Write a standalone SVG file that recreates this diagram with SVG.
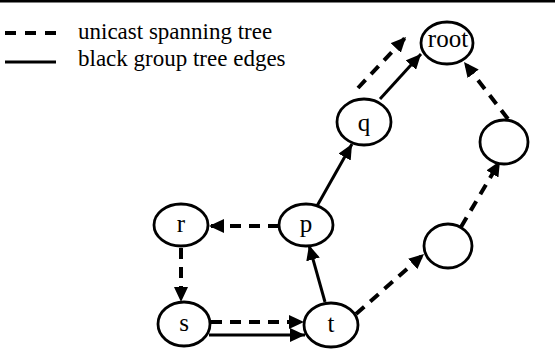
<svg xmlns="http://www.w3.org/2000/svg" width="555" height="355" viewBox="0 0 555 355">
<defs>
<marker id="ah" markerUnits="userSpaceOnUse" markerWidth="16" markerHeight="14" refX="15" refY="7" orient="auto">
<path d="M0,0 L15,7 L0,14 Z" fill="#000"/>
</marker>
<style>
.n ellipse{fill:#fff;stroke:#000;stroke-width:2.8}
.n text{font-family:"Liberation Serif","Times New Roman",serif;font-size:25px;text-anchor:middle;fill:#000}
.d{stroke:#000;stroke-width:4;stroke-dasharray:11 8;fill:none}
.s{stroke:#000;stroke-width:3;fill:none}
.lg{font-family:"Liberation Serif","Times New Roman",serif;font-size:23px;fill:#000}
</style>
</defs>
<rect width="555" height="355" fill="#fff"/>
<line x1="0" y1="1" x2="555" y2="1" stroke="#000" stroke-width="3"/>
<g id="legend">
<line x1="5" y1="33" x2="56" y2="33" stroke="#000" stroke-width="4" stroke-dasharray="11 9"/>
<line x1="5" y1="62" x2="56" y2="62" stroke="#000" stroke-width="3"/>
<text class="lg" x="78" y="39">unicast spanning tree</text>
<text class="lg" x="78" y="65.5">black group tree edges</text>
</g>
<g id="connectors">
<line class="d" x1="279" y1="226" x2="209" y2="226" marker-end="url(#ah)"/>
<line class="d" x1="181" y1="248" x2="181" y2="302" marker-end="url(#ah)"/>
<line class="d" x1="211" y1="322" x2="304" y2="322" marker-end="url(#ah)"/>
<line class="s" x1="209" y1="335" x2="305" y2="335" marker-end="url(#ah)"/>
<line class="s" x1="325" y1="302" x2="309" y2="245" marker-end="url(#ah)"/>
<line class="s" x1="317" y1="206" x2="352" y2="144" marker-end="url(#ah)"/>
<line class="s" x1="380" y1="99" x2="421" y2="54" marker-end="url(#ah)"/>
<line class="d" x1="358" y1="88" x2="406" y2="37" marker-end="url(#ah)"/>
<line class="d" x1="508" y1="119" x2="464" y2="62" marker-end="url(#ah)"/>
<line class="d" x1="461" y1="227" x2="500" y2="161" marker-end="url(#ah)"/>
<line class="d" x1="356" y1="314" x2="424" y2="254" marker-end="url(#ah)"/>
</g>
<g id="root" class="n"><ellipse cx="447" cy="43" rx="26" ry="21"/><text x="448" y="47">root</text></g>
<g id="q" class="n"><ellipse cx="364" cy="122" rx="27" ry="23"/><text x="364" y="131">q</text></g>
<g id="u1" class="n"><ellipse cx="504" cy="142" rx="24" ry="22"/></g>
<g id="u2" class="n"><ellipse cx="448" cy="246" rx="24" ry="22"/></g>
<g id="r" class="n"><ellipse cx="181" cy="225" rx="27" ry="21"/><text x="181" y="232">r</text></g>
<g id="p" class="n"><ellipse cx="306" cy="225" rx="27" ry="21"/><text x="306" y="232">p</text></g>
<g id="s" class="n"><ellipse cx="184" cy="324" rx="26" ry="22"/><text x="184" y="331">s</text></g>
<g id="t" class="n"><ellipse cx="331" cy="325" rx="27" ry="22"/><text x="331" y="332">t</text></g>
</svg>
